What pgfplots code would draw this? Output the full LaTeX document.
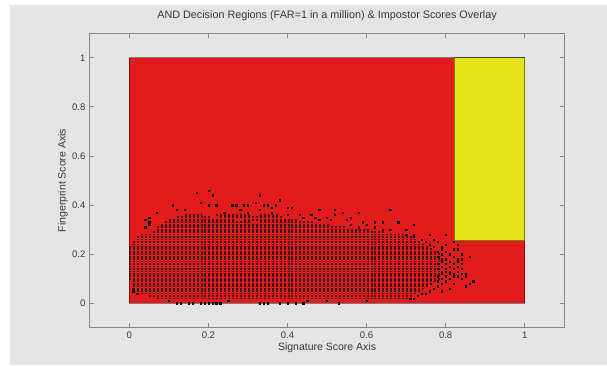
\documentclass[border=0pt]{standalone}
\usepackage{pgfplots}
\pgfplotsset{compat=1.18}
\usepackage{fontspec}
\setmainfont{Liberation Sans}
\definecolor{figbg}{RGB}{228,228,228}
\definecolor{axgray}{RGB}{135,135,135}
\definecolor{txt}{RGB}{55,55,55}
\definecolor{rred}{RGB}{228,27,28}
\definecolor{yel}{RGB}{229,228,26}
\definecolor{dotc}{RGB}{60,25,25}
\begin{document}
\begin{tikzpicture}
\useasboundingbox (0pt,0pt) rectangle (607pt,365pt);
\fill[white] (0pt,0pt) rectangle (607pt,365pt);
\fill[figbg] (10pt,0pt) rectangle (607pt,360pt);
\begin{axis}[
  at={(89.8pt,37.1pt)}, anchor=south west,
  x=395.4pt, y=245.6pt,
  xmin=-0.1, xmax=1.1, ymin=-0.1, ymax=1.1,
  xtick={0,0.2,0.4,0.6,0.8,1}, ytick={0,0.2,0.4,0.6,0.8,1},
  xtick pos=both, ytick pos=both,
  tick align=inside, major tick length=4.5pt,
  axis line style={axgray, line width=0.9pt},
  tick style={axgray, line width=0.8pt},
  /pgf/number format/assume math mode=true,
  ticklabel style={font=\fontsize{9.5}{11}\selectfont, text=txt},
  xticklabel style={anchor=base, inner sep=0pt, yshift=-10.6pt},
  yticklabel style={anchor=east, inner sep=0pt, xshift=-4.2pt},
  title={AND Decision Regions (FAR=1 in a million) \& Impostor Scores Overlay},
  title style={at={(axis description cs:0.5,1.0305)}, anchor=base, font=\fontsize{10.8}{12}\selectfont, text=txt, inner sep=0pt},
  xlabel={Signature Score Axis},
  xlabel style={at={(axis description cs:0.5,-0.0773)}, anchor=base, font=\fontsize{10.5}{12}\selectfont, text=txt, inner sep=0pt},
  ylabel={Fingerprint Score Axis},
  ylabel style={at={(axis description cs:-0.0512,0.5)}, anchor=base, font=\fontsize{10.5}{12}\selectfont, text=txt, inner sep=0pt},
  clip=false,
]
% decision regions
\addplot[fill=rred, draw=black, draw opacity=0.45, line width=0.5pt] coordinates {(0,0) (1,0) (1,1) (0,1)} -- cycle;
\addplot[fill=yel, draw=black, draw opacity=0.45, line width=0.5pt] coordinates {(0.822,0.255) (1,0.255) (1,1) (0.822,1)} -- cycle;
% dense rows of impostor scores (score grid 0.01): start and end of each run
\addplot[dotc, line width=1.8pt, dash pattern=on 2.0pt off 1.954pt, unbounded coords=jump, mark=none] table[row sep=\\] {
x y\\
0.07 0.02\\ 0.705 0.02\\ nan nan\\
0.05 0.03\\ 0.715 0.03\\ nan nan\\
0.03 0.04\\ 0.725 0.04\\ nan nan\\
0.02 0.05\\ 0.735 0.05\\ nan nan\\
0.02 0.06\\ 0.745 0.06\\ nan nan\\
0.01 0.07\\ 0.755 0.07\\ nan nan\\
0.01 0.08\\ 0.765 0.08\\ nan nan\\
0.01 0.09\\ 0.775 0.09\\ nan nan\\
0.00 0.10\\ 0.785 0.10\\ nan nan\\
0.00 0.11\\ 0.785 0.11\\ nan nan\\
0.00 0.12\\ 0.785 0.12\\ nan nan\\
0.00 0.13\\ 0.785 0.13\\ nan nan\\
0.00 0.14\\ 0.785 0.14\\ nan nan\\
0.00 0.15\\ 0.785 0.15\\ nan nan\\
0.00 0.16\\ 0.785 0.16\\ nan nan\\
0.00 0.17\\ 0.785 0.17\\ nan nan\\
0.00 0.18\\ 0.785 0.18\\ nan nan\\
0.00 0.19\\ 0.785 0.19\\ nan nan\\
0.00 0.20\\ 0.785 0.20\\ nan nan\\
0.00 0.21\\ 0.775 0.21\\ nan nan\\
0.00 0.22\\ 0.765 0.22\\ nan nan\\
0.00 0.23\\ 0.755 0.23\\ nan nan\\
0.01 0.24\\ 0.745 0.24\\ nan nan\\
0.01 0.25\\ 0.735 0.25\\ nan nan\\
0.02 0.26\\ 0.725 0.26\\ nan nan\\
0.02 0.27\\ 0.715 0.27\\ nan nan\\
0.03 0.28\\ 0.695 0.28\\ nan nan\\
0.06 0.29\\ 0.645 0.29\\ nan nan\\
0.07 0.30\\ 0.605 0.30\\ nan nan\\
0.07 0.31\\ 0.545 0.31\\ nan nan\\
0.08 0.32\\ 0.505 0.32\\ nan nan\\
0.09 0.33\\ 0.305 0.33\\ nan nan\\
0.33 0.33\\ 0.465 0.33\\ nan nan\\
0.10 0.34\\ 0.265 0.34\\ nan nan\\
0.29 0.34\\ 0.425 0.34\\ nan nan\\
0.12 0.35\\ 0.205 0.35\\ nan nan\\
0.23 0.35\\ 0.385 0.35\\ nan nan\\
0.14 0.36\\ 0.185 0.36\\ nan nan\\
0.22 0.36\\ 0.305 0.36\\ nan nan\\
0.33 0.36\\ 0.375 0.36\\
};
% scattered impostor scores
\addplot[only marks, mark=square*, mark size=0.65pt, mark options={draw=none, fill=dotc}] coordinates {
(0.79,0.22) (0.82,0.22) (0.83,0.22) (0.78,0.21) (0.80,0.21)
(0.79,0.20) (0.81,0.20) (0.84,0.20) (0.78,0.19) (0.82,0.19) (0.86,0.19)
(0.79,0.18) (0.80,0.18) (0.83,0.18) (0.84,0.18) (0.79,0.17) (0.81,0.17) (0.83,0.17)
(0.78,0.16) (0.80,0.16) (0.82,0.16) (0.84,0.16) (0.79,0.15) (0.81,0.15) (0.83,0.15)
(0.78,0.14) (0.80,0.14) (0.82,0.14) (0.84,0.14) (0.79,0.13) (0.80,0.13) (0.81,0.13) (0.83,0.13)
(0.79,0.12) (0.81,0.12) (0.82,0.12) (0.84,0.12) (0.85,0.12)
(0.78,0.11) (0.80,0.11) (0.82,0.11) (0.83,0.11) (0.85,0.11)
(0.79,0.10) (0.81,0.10) (0.84,0.10) (0.78,0.09) (0.80,0.09) (0.87,0.09)
(0.79,0.08) (0.82,0.08) (0.86,0.08) (0.78,0.07) (0.85,0.07) (0.77,0.06) (0.81,0.06)
(0.76,0.05) (0.79,0.05) (0.74,0.04) (0.75,0.04) (0.73,0.03) (0.71,0.02) (0.72,0.02)
(0.70,0.28) (0.72,0.28) (0.76,0.28) (0.80,0.28) (0.72,0.27) (0.74,0.26) (0.77,0.26)
(0.75,0.25) (0.78,0.25) (0.82,0.25) (0.76,0.24) (0.80,0.24) (0.83,0.24) (0.77,0.23) (0.79,0.23)
(0.64,0.30) (0.66,0.30) (0.70,0.30) (0.58,0.31) (0.62,0.31)
(0.56,0.32) (0.60,0.32) (0.72,0.32) (0.59,0.33) (0.62,0.33) (0.64,0.33) (0.68,0.33)
(0.48,0.34) (0.51,0.34) (0.55,0.34) (0.44,0.35) (0.47,0.35) (0.50,0.35) (0.56,0.35)
(0.40,0.36) (0.43,0.36) (0.46,0.36) (0.52,0.36)
(0.07,0.37) (0.24,0.37) (0.30,0.37) (0.36,0.37) (0.54,0.37) (0.58,0.37)
(0.12,0.38) (0.14,0.38) (0.28,0.38) (0.33,0.38) (0.48,0.38) (0.52,0.38) (0.66,0.38)
(0.36,0.39) (0.40,0.39) (0.41,0.39)
(0.11,0.40) (0.20,0.40) (0.22,0.40) (0.26,0.40) (0.27,0.40) (0.29,0.40) (0.30,0.40) (0.34,0.40) (0.35,0.40) (0.37,0.40)
(0.18,0.41) (0.32,0.41) (0.38,0.42) (0.21,0.44) (0.33,0.44) (0.17,0.45) (0.20,0.46)
(0.04,0.31) (0.05,0.32) (0.05,0.33) (0.04,0.34) (0.05,0.35)
(0.01,0.05) (0.02,0.04) (0.01,0.06)
(0.12,0.00) (0.13,0.00) (0.15,0.00) (0.16,0.00) (0.18,0.00) (0.19,0.00) (0.20,0.00) (0.21,0.00) (0.22,0.00) (0.23,0.00)
(0.33,0.00) (0.34,0.00) (0.35,0.00) (0.38,0.00) (0.40,0.00) (0.42,0.00) (0.44,0.00) (0.53,0.00)
(0.10,0.01) (0.25,0.01) (0.45,0.01) (0.50,0.01) (0.60,0.01)
};
\end{axis}
\end{tikzpicture}
\end{document}
